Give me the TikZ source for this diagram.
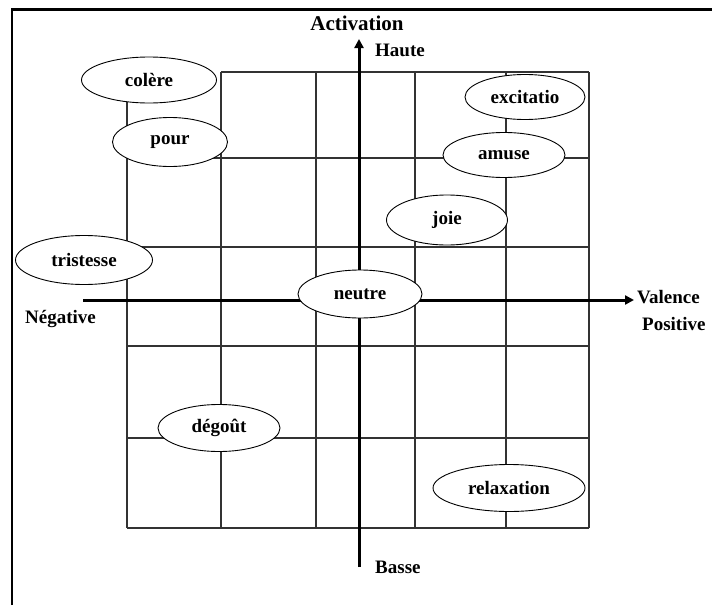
\documentclass[tikz,border=0pt]{standalone}
\usepackage{fontspec}
\setmainfont{Liberation Serif}
\usetikzlibrary{shapes.geometric,arrows.meta}
\begin{document}
\begin{tikzpicture}[x=1pt,y=-1pt,
  emo/.style={ellipse,draw=black,line width=0.9pt,fill=white,inner sep=0pt,
    font=\fontsize{19}{19}\selectfont\bfseries},
  lab/.style={inner sep=0pt,anchor=west,font=\fontsize{19}{19}\selectfont\bfseries},
  gridline/.style={draw=black!80,line width=1.4pt},
  axis/.style={line width=3pt,-{Triangle[length=9pt,width=9pt]}}]
\useasboundingbox (0,0) rectangle (712,605);
\fill[white] (0,0) rectangle (712,605);
% frame (left and top only)
\draw[line width=2.6pt] (12,605) -- (12,9.5) -- (712,9.5);
% grid
\foreach \x in {127,221,316,415,506,589} \draw[gridline] (\x,72) -- (\x,528);
\draw[gridline] (221,72) -- (589,72);
\foreach \y in {158,247,346,438,528} \draw[gridline] (127,\y) -- (589,\y);
% axes
\coordinate (L) at (83,300);
\coordinate (R) at (634,300);
\coordinate (B) at (359,567);
\coordinate (T) at (359,39);
\draw[axis] (L) -- (R);
\draw[axis] (B) -- (T);
% emotions
\node[emo,minimum width=135pt,minimum height=46pt] (colere) at (149,80) {colère};
\node[emo,minimum width=115pt,minimum height=49pt] (pour) at (170,142) {pour};
\node[emo,minimum width=137pt,minimum height=49pt] (tristesse) at (84,260) {tristesse};
\node[emo,minimum width=124pt,minimum height=48pt] (neutre) at (360,294) {neutre};
\node[emo,minimum width=122pt,minimum height=47pt] (degout) at (219,428) {dégoût};
\node[emo,minimum width=120pt,minimum height=45pt] (excitatio) at (525,97) {excitatio};
\node[emo,minimum width=122pt,minimum height=45pt] (amuse) at (504,155) {amuse};
\node[emo,minimum width=121pt,minimum height=50pt] (joie) at (447,220) {joie};
\node[emo,minimum width=152pt,minimum height=47pt] (relaxation) at (509,488) {relaxation};
% labels
\node[inner sep=0pt,font=\fontsize{21}{21}\selectfont\bfseries] (activation) at (357,23) {Activation};
\node[lab] (haute) at (375,50) {Haute};
\node[lab] (basse) at (375,567) {Basse};
\node[lab] (negative) at (25,319) {Négative};
\node[lab] (valence) at (637,297) {Valence};
\node[lab] (positive) at (642,324) {Positive};
\end{tikzpicture}
\end{document}
